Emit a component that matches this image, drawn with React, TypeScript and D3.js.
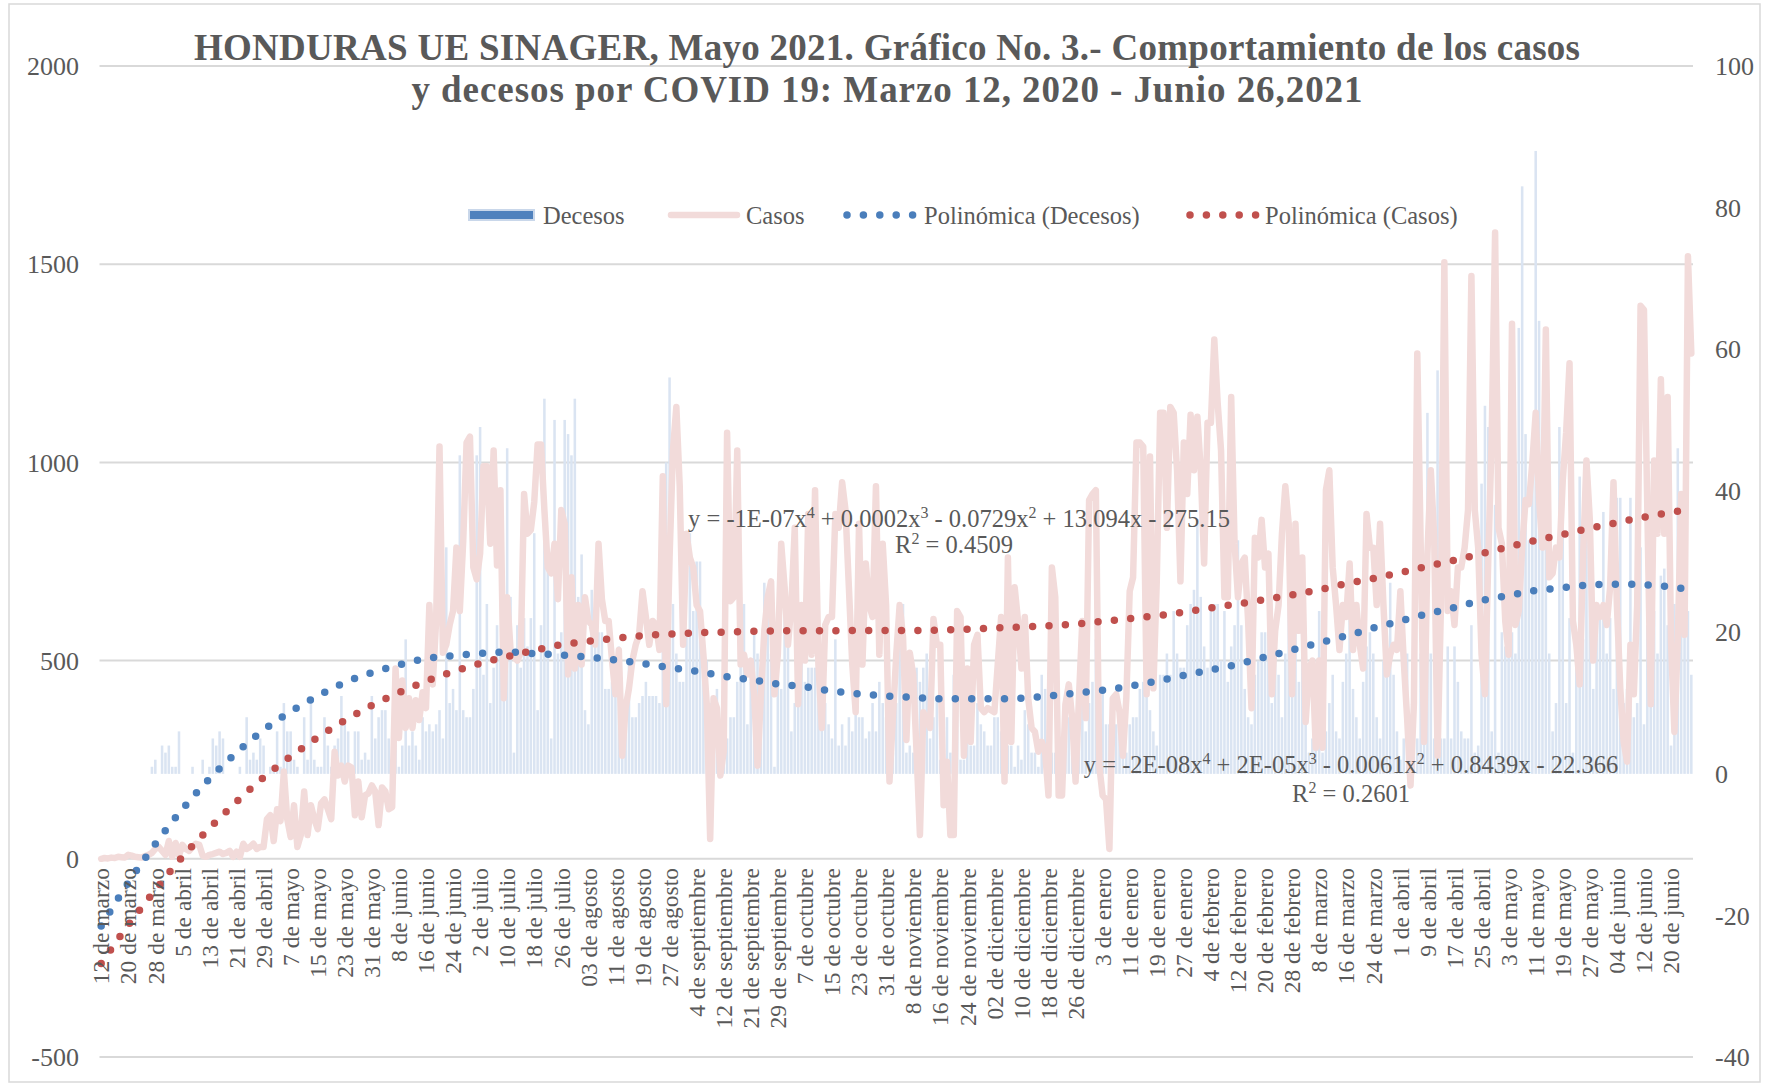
import * as d3 from "d3"
import React from "react"

// etiquetas del eje de categorías (una cada 8 días)
const etiquetas = [
  "12 de marzo", "20 de marzo", "28 de marzo", "5 de abril", "13 de abril", "21 de abril", "29 de abril",
  "7 de mayo", "15 de mayo", "23 de mayo", "31 de mayo", "8 de junio", "16 de junio", "24 de junio",
  "2 de julio", "10 de julio", "18 de julio", "26 de julio", "03 de agosto", "11 de agosto", "19 de agosto",
  "27 de agosto", "4 de septiembre", "12 de septiembre", "21 de septiembre", "29 de septiembre",
  "7 de octubre", "15 de octubre", "23 de octubre", "31 de octubre", "8 de noviembre", "16 de noviembre",
  "24 de noviembre", "02 de diciembre", "10 de diciembre", "18 de diciembre", "26 de diciembre",
  "3 de enero", "11 de enero", "19 de enero", "27 de enero", "4 de febrero", "12 de febrero",
  "20 de febrero", "28 de febrero", "8 de marzo", "16 de marzo", "24 de marzo", "1 de abril", "9 de abril",
  "17 de abril", "25 de abril", "3 de mayo", "11 de mayo", "19 de mayo", "27 de mayo", "04 de junio",
  "12 de junio", "20 de junio",
]

// casos diarios (eje izquierdo), 12 mar 2020 - 26 jun 2021
const casos = [
  0, 2, 1, 3, 2, 5, 4, 3, 10, 8,
  5, 4, 3, 7, 10, 15, 25, 30, 20, 10,
  45, 5, 40, 8, 35, 25, 20, 30, 38, 35,
  8, 5, 10, 12, 15, 18, 12, 15, 20, 5,
  18, 5, 38, 25, 30, 38, 25, 30, 30, 100,
  110, 45, 125, 95, 220, 100, 55, 135, 30, 60,
  170, 60, 135, 100, 75, 140, 150, 125, 100, 270,
  210, 235, 195, 235, 230, 110, 195, 105, 160, 165,
  185, 170, 85, 180, 170, 125, 130, 480, 305, 450,
  330, 405, 330, 400, 350, 420, 380, 640, 440, 600,
  1040, 520, 540, 590, 625, 785, 625, 800, 1050, 1065,
  735, 705, 770, 990, 990, 795, 1030, 740, 930, 405,
  660, 527, 510, 500, 520, 920, 820, 830, 900, 1045,
  1045, 880, 735, 720, 795, 655, 880, 845, 465, 710,
  480, 640, 490, 660, 600, 590, 540, 795, 655, 600,
  600, 500, 415, 527, 260, 380, 430, 500, 540, 565,
  675, 610, 540, 600, 590, 527, 965, 390, 760, 1030,
  1140, 940, 540, 820, 760, 735, 640, 625, 515, 390,
  50, 405, 380, 210, 270, 1075, 650, 660, 1030, 490,
  515, 465, 500, 415, 235, 415, 575, 660, 700, 415,
  515, 795, 685, 540, 640, 835, 390, 640, 500, 870,
  515, 930, 490, 330, 590, 610, 610, 870, 835, 950,
  880, 685, 490, 370, 845, 490, 745, 640, 610, 940,
  515, 795, 640, 195, 355, 515, 640, 560, 300, 520,
  465, 270, 60, 370, 350, 330, 605, 540, 540, 135,
  245, 60, 60, 625, 610, 260, 480, 295, 540, 565,
  380, 370, 380, 375, 370, 490, 610, 195, 760, 295,
  685, 600, 480, 610, 405, 330, 320, 270, 295, 270,
  160, 735, 660, 160, 160, 390, 440, 355, 195, 405,
  600, 355, 905, 920, 930, 235, 160, 150, 25, 405,
  415, 370, 260, 405, 675, 710, 1050, 1050, 1040, 415,
  1015, 430, 700, 1125, 1125, 835, 1140, 1125, 980, 700,
  1050, 920, 1120, 980, 1115, 980, 745, 1100, 1100, 1310,
  1150, 1030, 660, 660, 1165, 795, 660, 745, 760, 600,
  380, 810, 760, 855, 735, 770, 415, 575, 640, 820,
  940, 845, 415, 845, 575, 760, 345, 480, 500, 280,
  500, 280, 930, 980, 735, 640, 527, 640, 610, 745,
  527, 640, 540, 480, 870, 785, 785, 640, 845, 640,
  465, 515, 540, 527, 675, 500, 355, 185, 390, 1275,
  795, 295, 770, 980, 810, 260, 640, 1505, 625, 675,
  590, 735, 735, 785, 880, 1470, 880, 785, 515, 415,
  760, 1065, 1580, 835, 795, 600, 515, 1350, 590, 625,
  785, 905, 895, 1000, 1125, 905, 785, 1335, 710, 720,
  785, 760, 955, 1075, 1250, 600, 540, 440, 760, 1005,
  855, 500, 640, 610, 640, 590, 685, 950, 640, 430,
  295, 245, 540, 415, 640, 1395, 1385, 880, 390, 1005,
  820, 1210, 820, 1165, 550, 320, 550, 920, 565, 1520,
  1275,
]

// decesos diarios (eje derecho)
const decesos = [
  0, 0, 0, 0, 0, 0, 0, 0, 0, 0,
  0, 0, 0, 0, 0, 1, 2, 0, 4, 3,
  4, 1, 1, 6, 0, 0, 0, 1, 0, 0,
  2, 0, 1, 5, 4, 6, 5, 0, 0, 0,
  0, 1, 0, 8, 2, 3, 2, 5, 4, 0,
  1, 1, 6, 1, 10, 6, 6, 2, 1, 0,
  8, 2, 10, 2, 1, 1, 8, 4, 1, 4,
  5, 11, 7, 6, 1, 6, 6, 2, 3, 2,
  11, 5, 8, 9, 9, 5, 2, 8, 1, 4,
  19, 4, 6, 4, 2, 8, 6, 7, 6, 7,
  9, 5, 32, 10, 12, 9, 45, 9, 8, 8,
  12, 45, 49, 14, 24, 10, 15, 21, 17, 14,
  46, 25, 3, 21, 15, 22, 18, 22, 34, 9,
  21, 53, 29, 5, 50, 17, 20, 50, 48, 45,
  53, 25, 31, 9, 7, 26, 23, 20, 20, 12,
  12, 13, 12, 18, 3, 6, 16, 8, 8, 10,
  11, 13, 11, 11, 11, 10, 42, 44, 56, 24,
  17, 13, 13, 20, 34, 23, 30, 30, 20, 16,
  10, 10, 12, 4, 5, 5, 8, 8, 13, 20,
  24, 7, 13, 20, 17, 14, 27, 24, 17, 1,
  17, 12, 27, 25, 6, 10, 10, 17, 13, 15,
  15, 15, 12, 8, 10, 7, 5, 19, 4, 7,
  4, 8, 6, 14, 8, 8, 5, 6, 10, 6,
  13, 10, 8, 3, 3, 10, 18, 24, 3, 4,
  3, 15, 13, 15, 17, 5, 8, 11, 2, 1,
  8, 3, 14, 10, 2, 2, 8, 4, 4, 10,
  7, 6, 4, 4, 8, 8, 6, 1, 4, 4,
  1, 4, 2, 9, 7, 3, 3, 1, 14, 12,
  12, 3, 3, 5, 5, 9, 8, 3, 3, 11,
  11, 6, 10, 13, 19, 16, 12, 7, 7, 3,
  7, 10, 3, 3, 7, 8, 8, 12, 13, 13,
  9, 6, 4, 14, 14, 17, 14, 23, 17, 15,
  15, 21, 24, 26, 36, 25, 18, 15, 24, 24,
  24, 16, 23, 13, 18, 21, 33, 21, 12, 8,
  7, 14, 16, 20, 20, 28, 10, 18, 14, 8,
  17, 32, 23, 20, 13, 23, 17, 3, 5, 4,
  23, 3, 6, 10, 14, 6, 5, 13, 17, 27,
  12, 8, 5, 13, 18, 20, 17, 8, 5, 16,
  18, 27, 14, 6, 2, 5, 17, 8, 5, 5,
  17, 12, 51, 17, 5, 57, 5, 5, 18, 5,
  18, 13, 6, 5, 5, 21, 3, 4, 41, 52,
  49, 6, 38, 3, 20, 18, 23, 20, 17, 63,
  83, 48, 33, 42, 88, 64, 38, 39, 17, 6,
  10, 49, 38, 10, 22, 3, 18, 42, 19, 37,
  27, 12, 24, 23, 37, 17, 22, 12, 39, 39,
  10, 12, 39, 8, 10, 32, 7, 21, 13, 23,
  17, 28, 29, 21, 4, 24, 46, 29, 24, 23,
  14,
]

// líneas de tendencia polinómica, cada 8 días (+ último día)
const tendenciaCasos = [
  -264, -167, -79, 5, 77, 144, 205, 258, 306, 349, 387, 419, 448, 472, 493, 510, 526, 540, 549, 556,
  563, 567, 570, 572, 574, 575, 575, 575, 576, 576, 576, 577, 579, 582, 585, 588, 592, 599, 606, 613,
  622, 633, 643, 654, 666, 679, 694, 707, 722, 738, 753, 770, 787, 803, 818, 834, 848, 862, 874, 882,
]
const tendenciaDecesos = [
  -21.5, -15.4, -9.9, -5.0, -0.7, 3.0, 6.2, 8.8, 11.0, 12.9, 14.3, 15.4, 16.3, 16.7, 17.0, 17.2, 17.0,
  16.8, 16.5, 16.1, 15.6, 15.0, 14.5, 13.8, 13.3, 12.7, 12.3, 11.7, 11.3, 11.0, 10.8, 10.6, 10.6, 10.6,
  10.7, 11.0, 11.4, 11.8, 12.4, 13.1, 13.9, 14.7, 15.5, 16.5, 17.5, 18.5, 19.5, 20.6, 21.6, 22.6, 23.5,
  24.5, 25.2, 25.9, 26.3, 26.7, 26.8, 26.7, 26.4, 26.0,
]

const ticksIzq = [2000, 1500, 1000, 500, 0, -500]
const ticksDer = [100, 80, 60, 40, 20, 0, -20, -40]

const FONT = "'Liberation Serif', 'Times New Roman', serif"
const GRIS = "#595959"

const createChart = () => {
  const width = 1773
  const height = 1086
  const left = 99.5
  const right = 1693
  const top = 66
  const bottom = 1057
  const n = casos.length

  const svg = d3.select("#covid-chart")
  svg.selectAll("*").remove()
  svg.attr("width", width).attr("height", height).attr("viewBox", [0, 0, width, height])
    .style("font-family", FONT)

  svg.append("rect")
    .attr("x", 9).attr("y", 4).attr("width", 1751).attr("height", 1078)
    .attr("fill", "#fff").attr("stroke", "#d9d9d9").attr("stroke-width", 1.5)

  const x = d3.scaleBand<number>().domain(d3.range(n)).range([left, right]).paddingInner(0.25).paddingOuter(0.12)
  const xc = (i: number) => (x(i) as number) + x.bandwidth() / 2
  const yL = d3.scaleLinear().domain([-500, 2000]).range([bottom, top])
  const yR = d3.scaleLinear().domain([-40, 100]).range([bottom, top])

  // gridlines
  svg.append("g")
    .selectAll("line")
    .data(ticksIzq)
    .join("line")
    .attr("x1", left).attr("x2", right)
    .attr("y1", (d) => yL(d)).attr("y2", (d) => yL(d))
    .attr("stroke", "#d9d9d9").attr("stroke-width", 2)

  // left / right tick labels
  svg.append("g")
    .selectAll("text")
    .data(ticksIzq)
    .join("text")
    .attr("x", 79).attr("y", (d) => yL(d)).attr("dy", "0.35em")
    .attr("text-anchor", "end").attr("font-size", 26).attr("fill", GRIS)
    .text((d) => d)

  svg.append("g")
    .selectAll("text")
    .data(ticksDer)
    .join("text")
    .attr("x", 1715).attr("y", (d) => yR(d)).attr("dy", "0.35em")
    .attr("text-anchor", "start").attr("font-size", 26).attr("fill", GRIS)
    .text((d) => d)

  // bars: decesos
  svg.append("g")
    .attr("fill", "#dae4f2")
    .selectAll("rect")
    .data(decesos.map((v, i) => ({ v, i })))
    .join("rect")
    .attr("x", (d) => x(d.i) as number)
    .attr("width", x.bandwidth())
    .attr("y", (d) => yR(d.v))
    .attr("height", (d) => yR(0) - yR(d.v))

  // line: casos
  const line = d3.line<number>().x((d, i) => xc(i)).y((d) => yL(d))
  svg.append("path")
    .datum(casos)
    .attr("d", line)
    .attr("fill", "none").attr("stroke", "#f2dbda").attr("stroke-width", 6.5)
    .attr("stroke-linejoin", "round").attr("stroke-linecap", "round")

  // trend lines
  const idx = d3.range(0, n, 8).concat([n - 1])
  const trend = (vals: number[], y: any, color: string) => {
    const l = d3.line<number>().x((d, k) => xc(idx[k])).y((d) => y(d)).curve(d3.curveMonotoneX)
    svg.append("path")
      .datum(vals)
      .attr("d", l)
      .attr("fill", "none").attr("stroke", color).attr("stroke-width", 7.5)
      .attr("stroke-linecap", "round").attr("stroke-dasharray", "0 16.4")
  }
  trend(tendenciaDecesos, yR, "#4a7ebb")
  trend(tendenciaCasos, yL, "#c0504d")

  // category labels
  svg.append("g")
    .selectAll("text")
    .data(etiquetas)
    .join("text")
    .attr("transform", (d, k) => `translate(${xc(k * 8)},868) rotate(-90)`)
    .attr("dy", "0.35em")
    .attr("text-anchor", "end").attr("font-size", 23.5).attr("fill", GRIS)
    .text((d) => d)

  // trend equations
  const ecuacion = (parts: string[], cx: number, y: number) => {
    const t = svg.append("text")
      .attr("x", cx).attr("y", y).attr("text-anchor", "middle")
      .attr("font-size", 24.5).attr("fill", GRIS)
    parts.forEach((p, k) => {
      const sup = k % 2 === 1
      t.append("tspan")
        .attr("dy", sup ? -9 : (k > 0 ? 9 : 0))
        .attr("font-size", sup ? 16 : 24.5)
        .text(p)
    })
  }
  ecuacion(["y = -1E-07x", "4", " + 0.0002x", "3", " - 0.0729x", "2", " + 13.094x - 275.15"], 959, 527)
  ecuacion(["R", "2", " = 0.4509"], 954, 553)
  ecuacion(["y = -2E-08x", "4", " + 2E-05x", "3", " - 0.0061x", "2", " + 0.8439x - 22.366"], 1351, 773)
  ecuacion(["R", "2", " = 0.2601"], 1351, 802)

  // legend
  const lg = svg.append("g").attr("font-size", 24.5).attr("fill", GRIS)
  const ly = 215
  lg.append("rect").attr("x", 469).attr("y", ly - 5).attr("width", 65).attr("height", 10)
    .attr("fill", "#4f81bd").attr("stroke", "#c9d7ea").attr("stroke-width", 2)
  lg.append("text").attr("x", 543).attr("y", ly).attr("dy", "0.35em").text("Decesos")
  lg.append("line").attr("x1", 671).attr("x2", 737).attr("y1", ly).attr("y2", ly)
    .attr("stroke", "#f2dbda").attr("stroke-width", 6.5).attr("stroke-linecap", "round")
  lg.append("text").attr("x", 746).attr("y", ly).attr("dy", "0.35em").text("Casos")
  lg.append("line").attr("x1", 847).attr("x2", 913).attr("y1", ly).attr("y2", ly)
    .attr("stroke", "#4a7ebb").attr("stroke-width", 7.5).attr("stroke-linecap", "round").attr("stroke-dasharray", "0 16.4")
  lg.append("text").attr("x", 924).attr("y", ly).attr("dy", "0.35em").text("Polinómica (Decesos)")
  lg.append("line").attr("x1", 1190).attr("x2", 1256).attr("y1", ly).attr("y2", ly)
    .attr("stroke", "#c0504d").attr("stroke-width", 7.5).attr("stroke-linecap", "round").attr("stroke-dasharray", "0 16.4")
  lg.append("text").attr("x", 1265).attr("y", ly).attr("dy", "0.35em").text("Polinómica (Casos)")

  // title
  const tt = svg.append("g").attr("font-size", 37).attr("font-weight", "bold").attr("fill", GRIS)
    .attr("text-anchor", "middle")
  tt.append("text").attr("x", 887).attr("y", 60).attr("textLength", 1386)
    .text("HONDURAS UE SINAGER, Mayo 2021.  Gráfico No. 3.- Comportamiento de los casos")
  tt.append("text").attr("x", 887).attr("y", 102).attr("textLength", 951)
    .text("y decesos por COVID 19: Marzo 12, 2020 - Junio 26,2021")
}

const App = () => {
  React.useEffect(() => {
    createChart()
  }, [])

  return <svg id="covid-chart" style={{ position: "absolute", left: 0, top: 0 }} />
}

export default App
